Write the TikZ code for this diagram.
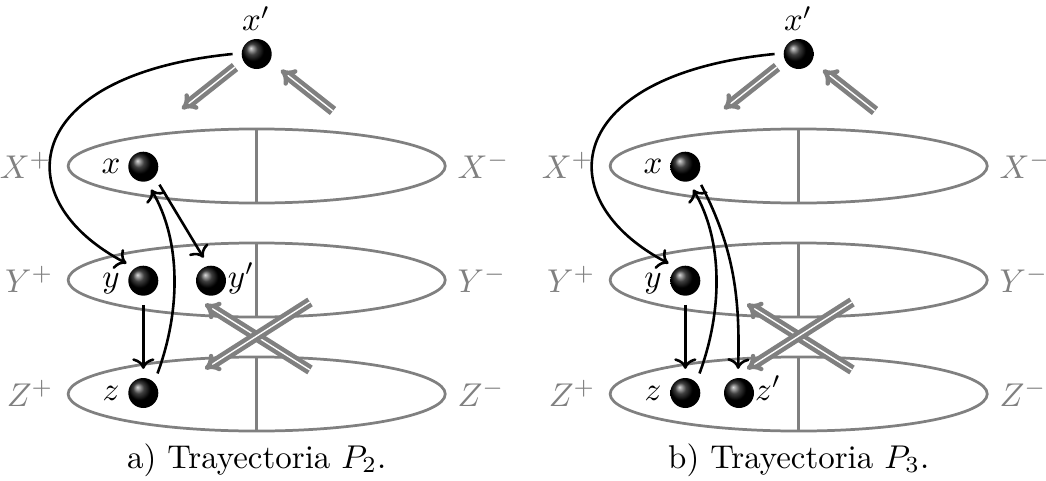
\RequirePackage{fix-cm}
\documentclass[tikz,border=0pt]{standalone}
\usetikzlibrary{arrows.meta,shapes.geometric}
\definecolor{ringgray}{RGB}{128,128,128}
\tikzset{
  ring/.style={ellipse, draw=ringgray, line width=0.9pt, minimum width=123.7pt,
    minimum height=24.3pt, inner sep=0pt, outer sep=0pt},
  split/.style={draw=ringgray, line width=0.9pt},
  ball/.style={circle, minimum size=9.84pt, inner sep=0pt, outer sep=3pt,
    shade, ball color=black},
  lbl/.style={inner sep=0pt, anchor=base},
  sidel/.style={text=ringgray, inner sep=0pt, anchor=base east},
  sider/.style={text=ringgray, inner sep=0pt, anchor=base west},
  move/.style={->, line width=0.85pt},
  swap/.style={draw=ringgray, double=white, double distance=0.45pt,
    line width=1.45pt, -{Implies[scale=1.1]}},
}
\begin{document}
\begin{tikzpicture}[x=0.328pt, y=-0.328pt,
  every node/.style={font=\fontsize{10.8pt}{13pt}\selectfont}]
\useasboundingbox (0,0) rectangle (1046,481);

\foreach \p/\dx in {a/0, b/542} {
  \begin{scope}[shift={(\dx,0)}]
    % three layers, each split into a + half and a - half
    \node[ring] (X\p) at (256.7,166) {};
    \node[ring] (Y\p) at (256.7,280) {};
    \node[ring] (Z\p) at (256.7,394) {};
    \draw[split] (X\p.north) -- (X\p.south);
    \draw[split] (Y\p.north) -- (Y\p.south);
    \draw[split] (Z\p.north) -- (Z\p.south);
    \node[sidel] (Xp\p) at (52,178) {$X^+$};
    \node[sider] (Xm\p) at (457,178) {$X^-$};
    \node[sidel] (Yp\p) at (54,292) {$Y^+$};
    \node[sider] (Ym\p) at (457,292) {$Y^-$};
    \node[sidel] (Zp\p) at (54,406) {$Z^+$};
    \node[sider] (Zm\p) at (457,406) {$Z^-$};

    % swaps between the halves
    \coordinate (sa\p) at (235,67);  \coordinate (ta\p) at (182,109);
    \coordinate (sb\p) at (333,111); \coordinate (tb\p) at (281,70);
    \coordinate (sc\p) at (310,370); \coordinate (tc\p) at (205,304);
    \coordinate (sd\p) at (310,302); \coordinate (td\p) at (205,369);
    \draw[swap] (sa\p) -- (ta\p);
    \draw[swap] (sb\p) -- (tb\p);
    \draw[swap] (sc\p) -- (tc\p);
    \draw[swap] (sd\p) -- (td\p);

    % particles
    \node[ball] (xq\p) at (256.7,54) {};
    \node[lbl] (lxq\p) at (256,31) {$x'$};
    \node[ball] (x\p) at (143.3,166.7) {};
    \node[lbl] (lx\p) at (111,173) {$x$};
    \node[ball] (y\p) at (143.3,280.7) {};
    \node[lbl] (ly\p) at (111,287) {$y$};
    \node[ball] (z\p) at (143.3,393) {};
    \node[lbl] (lz\p) at (111,400) {$z$};

    % common moves
    \draw[move] (xq\p.180) .. controls (20,75) and (5,200) .. (y\p.134);
    \draw[move] (y\p.south) -- (z\p.north);
    \draw[move] (z\p.54) .. controls (181,310) and (181,240) .. (x\p.-71);
  \end{scope}
}

% panel a
\node[ball] (yqa) at (211,280.7) {};
\node[lbl] (lyqa) at (241,287) {$y'$};
\draw[move] (xa.-48) -- (yqa.108);
\node[lbl] (capa) at (256.7,468) {a) Trayectoria $P_2$.};

% panel b
\node[ball] (zqb) at (739,393) {};
\node[lbl] (lzqb) at (768,400) {$z'$};
\draw[move] (xb.-49) .. controls (735,250) and (740,300) .. (zqb.92);
\node[lbl] (capb) at (798.7,468) {b) Trayectoria $P_3$.};
\end{tikzpicture}
\end{document}
